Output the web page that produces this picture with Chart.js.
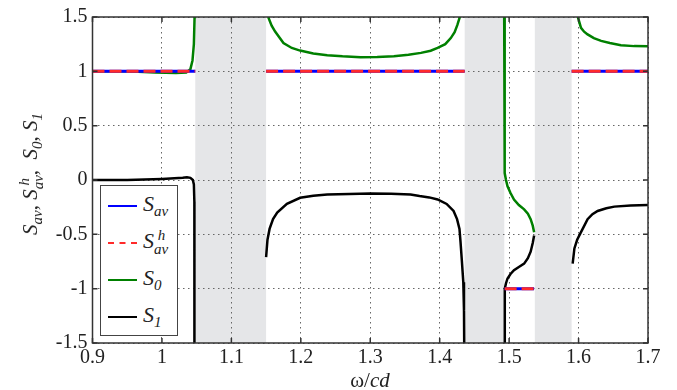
<!DOCTYPE html>
<html>
<head>
<meta charset="utf-8">
<script src="https://cdn.jsdelivr.net/npm/chart.js@4.4.1/dist/chart.umd.min.js"></script>
<style>
    body { margin: 0; background: #fff; }
    #wrap { position: relative; width: 677px; height: 390px; font-family: "Liberation Serif", "Times New Roman", Times, serif; color: #222; }
    .ytitle { position: absolute; left: 31px; top: 174px; transform: translate(-50%, -50%) rotate(-90deg); font-size: 21px; white-space: nowrap; }
    .xtitle { position: absolute; left: 370px; top: 380px; transform: translate(-50%, -50%); font-size: 21px; white-space: nowrap; }
    .sub { font-size: 15px; font-style: italic; position: relative; top: 5px; }
    .stk { display: inline-flex; flex-direction: column; font-size: 15px; font-style: italic; line-height: 14px; vertical-align: 8px; }
    #legend { position: absolute; left: 100px; top: 185px; width: 76px; height: 149px; border: 1px solid #444; background: #fff; }
    .row { position: absolute; left: 0; height: 30px; width: 76px; }
    .swatch { position: absolute; left: 7px; width: 29px; top: 14px; border-top: 2.5px solid; }
    .lab { position: absolute; left: 42px; top: 0; font-size: 22px; white-space: nowrap; }
</style>
</head>
<body>
<div id="wrap">
    <canvas id="chart" width="677" height="390"></canvas>
    <div class="ytitle"><i>S</i><span class="sub">av</span>, <i>S</i><span class="stk"><span>&nbsp;h</span><span>av</span></span>, &nbsp;<i>S</i><span class="sub">0</span>, <i>S</i><span class="sub">1</span></div>
    <div class="xtitle">ω/<i>cd</i></div>
    <div id="legend">
        <div class="row" style="top:5px"><div class="swatch" style="border-color:#0000ff"></div><div class="lab"><i>S</i><span class="sub">av</span></div></div>
        <div class="row" style="top:42px"><div class="swatch" style="border-top-style:dashed;border-color:#ff2a2a"></div><div class="lab"><i>S</i><span class="stk"><span>&nbsp;h</span><span>av</span></span></div></div>
        <div class="row" style="top:79px"><div class="swatch" style="border-color:#008000"></div><div class="lab"><i>S</i><span class="sub">0</span></div></div>
        <div class="row" style="top:116px"><div class="swatch" style="border-color:#000"></div><div class="lab"><i>S</i><span class="sub">1</span></div></div>
    </div>
</div>
<script>
// tick positions
const xTicks = [0.9, 1.0, 1.1, 1.2, 1.3, 1.4, 1.5, 1.6, 1.7];
const yTicks = [-1.5, -1, -0.5, 0, 0.5, 1, 1.5];

// stop bands (grey)
const bandStart = [1.048, 1.436, 1.537];
const bandEnd = [1.150, 1.493, 1.590];

// S_av and S_av^h (same values), null = gap
const sAvOmega = [0.9, 1.048, 1.1, 1.150, 1.436, 1.46, 1.4935, 1.536, 1.56, 1.590, 1.7];
const sAvValues = [1, 1, null, 1, 1, null, -1, -1, null, 1, 1];

// S_0
const s0Omega = [
    0.9, 0.95, 0.99, 1.02, 1.035, 1.041, 1.044, 1.046, 1.047, 1.0475,
    1.1,
    1.151, 1.1537, 1.158, 1.163, 1.175, 1.187, 1.199, 1.218, 1.238, 1.26, 1.286, 1.31, 1.334, 1.355, 1.373, 1.387, 1.397, 1.408, 1.416, 1.4215, 1.4255, 1.429, 1.4305,
    1.46,
    1.4928, 1.4932, 1.4936, 1.494, 1.4955, 1.4977, 1.502, 1.507, 1.514, 1.5216, 1.527, 1.531, 1.534, 1.536,
    1.56,
    1.5975, 1.599, 1.6035, 1.608, 1.613, 1.622, 1.6325, 1.645, 1.661, 1.68, 1.7
];
const s0Values = [
    1.0, 1.0, 0.99, 0.985, 0.99, 1.02, 1.1, 1.25, 1.5, 1.7,
    null,
    1.7, 1.488, 1.42, 1.366, 1.261, 1.215, 1.191, 1.165, 1.148, 1.138, 1.13, 1.132, 1.139, 1.152, 1.17, 1.19, 1.215, 1.25, 1.306, 1.36, 1.427, 1.5, 1.7,
    null,
    1.7, 0.8, 0.3, 0.064, 0.0, -0.058, -0.12, -0.18, -0.23, -0.27, -0.31, -0.36, -0.42, -0.48,
    null,
    1.7, 1.5, 1.40, 1.365, 1.34, 1.305, 1.28, 1.26, 1.24, 1.232, 1.23
];

// S_1
const s1Omega = [
    0.9, 0.95, 1.0, 1.03, 1.036, 1.041, 1.0445, 1.046, 1.0467, 1.0468,
    1.1,
    1.150, 1.152, 1.155, 1.160, 1.166, 1.18, 1.199, 1.218, 1.238, 1.27, 1.3, 1.33, 1.358, 1.371, 1.385, 1.397, 1.41, 1.42, 1.425, 1.4285, 1.430, 1.432, 1.434, 1.435, 1.4355,
    1.46,
    1.4935, 1.4935, 1.494, 1.4955, 1.4977, 1.502, 1.507, 1.514, 1.5216, 1.527, 1.531, 1.534, 1.536,
    1.56,
    1.5915, 1.594, 1.598, 1.6035, 1.613, 1.62, 1.6275, 1.64, 1.6515, 1.675, 1.7
];
const s1Values = [
    0.0, 0.0, 0.01, 0.02, 0.025, 0.02, 0.0, -0.04, -0.2, -1.7,
    null,
    -0.71, -0.55, -0.45, -0.36, -0.30, -0.22, -0.164, -0.145, -0.134, -0.128, -0.125, -0.127, -0.134, -0.148, -0.16, -0.179, -0.22, -0.285, -0.36, -0.45, -0.57, -0.75, -0.94, -1.2, -1.7,
    null,
    -1.7, -1.12, -1.0, -0.95, -0.906, -0.865, -0.83, -0.80, -0.77, -0.72, -0.66, -0.58, -0.51,
    null,
    -0.77, -0.63, -0.55, -0.48, -0.36, -0.315, -0.285, -0.26, -0.245, -0.235, -0.23
];

function pts(xs, ys) {
    return xs.map((x, i) => ({ x, y: ys[i] }));
}

function line(label, xs, ys, color, width, dash) {
    return {
        label,
        data: pts(xs, ys),
        showLine: true,
        borderColor: color,
        backgroundColor: color,
        borderWidth: width,
        borderDash: dash || [],
        pointRadius: 0,
        tension: 0,
        spanGaps: false
    };
}

// grey bands under the grid, box + inward ticks on top
const framePlugin = {
    id: "frame",
    beforeDraw(chart) {
        const { ctx, chartArea: a, scales: { x } } = chart;
        ctx.save();
        ctx.fillStyle = "#e5e6e8";
        bandStart.forEach((s, i) => {
            const x0 = x.getPixelForValue(s);
            const x1 = x.getPixelForValue(bandEnd[i]);
            ctx.fillRect(x0, a.top, x1 - x0, a.bottom - a.top);
        });
        ctx.restore();
    },
    afterDraw(chart) {
        const { ctx, chartArea: a, scales: { x, y } } = chart;
        ctx.save();
        ctx.strokeStyle = "#333";
        ctx.lineWidth = 1.5;
        ctx.beginPath();
        xTicks.forEach(v => {
            const px = x.getPixelForValue(v);
            ctx.moveTo(px, a.bottom); ctx.lineTo(px, a.bottom - 5);
            ctx.moveTo(px, a.top); ctx.lineTo(px, a.top + 5);
        });
        yTicks.forEach(v => {
            const py = y.getPixelForValue(v);
            ctx.moveTo(a.left, py); ctx.lineTo(a.left + 5, py);
            ctx.moveTo(a.right, py); ctx.lineTo(a.right - 5, py);
        });
        ctx.stroke();
        ctx.strokeRect(a.left, a.top, a.right - a.left, a.bottom - a.top);
        ctx.restore();
    }
};

const tickFont = { family: "'Liberation Serif', 'Times New Roman', Times, serif", size: 20 };

new Chart(document.getElementById("chart"), {
    type: "scatter",
    data: {
        datasets: [
            line("S_av^h", sAvOmega, sAvValues, "#ff2a2a", 3, [12, 5]),
            line("S_av", sAvOmega, sAvValues, "#0000ff", 3),
            line("S_0", s0Omega, s0Values, "#008000", 2.5),
            line("S_1", s1Omega, s1Values, "#000000", 2.5)
        ]
    },
    options: {
        responsive: false,
        animation: false,
        layout: { padding: { top: 12, right: 29, left: 0, bottom: 0 } },
        plugins: {
            legend: { display: false },
            tooltip: { enabled: false }
        },
        scales: {
            x: {
                type: "linear",
                min: 0.9,
                max: 1.7,
                afterBuildTicks: s => { s.ticks = xTicks.map(v => ({ value: v })); },
                afterFit: s => { s.height = 47; },
                ticks: {
                    color: "#222",
                    font: tickFont,
                    padding: 3,
                    callback: v => String(+v.toFixed(1))
                },
                grid: { color: "#666", lineWidth: 1, drawTicks: false },
                border: { display: false, dash: [1.5, 3.5] }
            },
            y: {
                min: -1.5,
                max: 1.5,
                afterBuildTicks: s => { s.ticks = yTicks.map(v => ({ value: v })); },
                afterFit: s => { s.width = 92.5; },
                ticks: {
                    color: "#222",
                    font: tickFont,
                    padding: 5,
                    callback: v => String(+v.toFixed(1))
                },
                grid: { color: "#666", lineWidth: 1, drawTicks: false },
                border: { display: false, dash: [1.5, 3.5] }
            }
        }
    },
    plugins: [framePlugin]
});
</script>
</body>
</html>
